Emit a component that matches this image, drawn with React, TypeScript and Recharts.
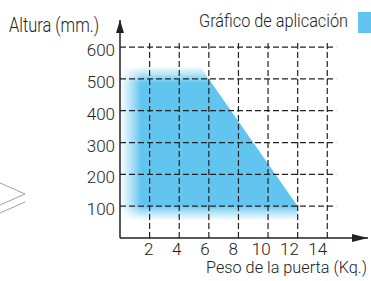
import { AreaChart, Area, XAxis, YAxis, ReferenceLine } from 'recharts'

// application envelope: door weight (kg) vs height (mm)
const weights = [0, 5.4, 12]
const heights = [540, 540, 100]
const baseHeight = 55

const xTicks = [2, 4, 6, 8, 10, 12, 14]
const yTicks = [100, 200, 300, 400, 500, 600]
const gridRight = 14.6
const gridTop = 616

const data = weights.map((w, i) => ({ w, h: heights[i] }))

const BLUE = '#61C5F0'
const INK = '#222'
const FONT = 'Roboto, "Noto Sans", sans-serif'

const XTick = ({ x, y, payload }: any) => (
  <text
    x={x - (payload.value - 2) * 0.72 - 1}
    y={y}
    dy="0.71em"
    textAnchor="middle"
    fontSize={17}
    fontWeight={300}
    fill={INK}
    fontFamily={FONT}
  >
    {payload.value}
  </text>
)

const YTick = ({ x, y, payload }: any) => (
  <text x={x} y={y + 3} dy="0.355em" textAnchor="end" fontSize={17} fontWeight={300} fill={INK} fontFamily={FONT}>
    {payload.value}
  </text>
)

export default function App() {
  return (
    <div style={{ position: 'absolute', left: 0, top: 0, width: 371, height: 281 }}>
      <AreaChart width={371} height={281} data={data} margin={{ top: 20, right: 3, bottom: 0, left: 60 }}>
        <defs>
          <linearGradient id="vfade" x1="0" y1="0" x2="0" y2="1">
            <stop offset="0" stopColor={BLUE} stopOpacity={0} />
            <stop offset="0.05" stopColor={BLUE} stopOpacity={0.45} />
            <stop offset="0.11" stopColor={BLUE} stopOpacity={1} />
            <stop offset="0.9" stopColor={BLUE} stopOpacity={1} />
            <stop offset="0.95" stopColor={BLUE} stopOpacity={0.45} />
            <stop offset="1" stopColor={BLUE} stopOpacity={0} />
          </linearGradient>
          <linearGradient id="hgrad" x1="0" y1="0" x2="1" y2="0">
            <stop offset="0" stopColor="#000" />
            <stop offset="0.06" stopColor="#777" />
            <stop offset="0.12" stopColor="#fff" />
            <stop offset="1" stopColor="#fff" />
          </linearGradient>
          <mask id="hfade" maskContentUnits="objectBoundingBox">
            <rect x={0} y={0} width={1} height={1} fill="url(#hgrad)" />
          </mask>
          <marker id="arrowX" viewBox="0 0 16 8" markerUnits="userSpaceOnUse" markerWidth={16} markerHeight={8} refX={16} refY={4} orient="auto">
            <path d="M0,0 L16,4 L0,8 z" fill={INK} />
          </marker>
          <marker id="arrowY" viewBox="0 0 13 8" markerUnits="userSpaceOnUse" markerWidth={13} markerHeight={8} refX={13} refY={4} orient="auto-start-reverse">
            <path d="M0,0 L13,4 L0,8 z" fill={INK} />
          </marker>
        </defs>
        <XAxis
          dataKey="w"
          type="number"
          domain={[0, 16.75]}
          ticks={xTicks}
          tickLine={false}
          tickSize={0}
          tickMargin={5}
          height={43}
          axisLine={{ stroke: INK, strokeWidth: 1.5, markerEnd: 'url(#arrowX)' }}
          tick={<XTick />}
          allowDataOverflow
        />
        <YAxis
          type="number"
          domain={[0, 685]}
          ticks={yTicks}
          tickLine={false}
          tickSize={0}
          tickMargin={5}
          width={60}
          axisLine={{ stroke: INK, strokeWidth: 1.5, markerStart: 'url(#arrowY)' }}
          tick={<YTick />}
          allowDataOverflow
        />
        <Area
          type="linear"
          dataKey="h"
          baseValue={baseHeight}
          stroke="none"
          fill="url(#vfade)"
          fillOpacity={1}
          mask="url(#hfade)"
          dot={false}
          activeDot={false}
          isAnimationActive={false}
        />
        {yTicks.map((v) => (
          <ReferenceLine
            key={'h' + v}
            segment={[{ x: 0, y: v }, { x: gridRight, y: v }]}
            stroke={INK}
            strokeWidth={1.2}
            strokeDasharray="6 3"
          />
        ))}
        {xTicks.map((v) => (
          <ReferenceLine
            key={'v' + v}
            segment={[{ x: v, y: 0 }, { x: v, y: gridTop }]}
            stroke={INK}
            strokeWidth={1.2}
            strokeDasharray="6 3"
          />
        ))}
      </AreaChart>
      <svg width={371} height={281} style={{ position: 'absolute', left: 0, top: 0, pointerEvents: 'none' }} fontFamily={FONT} fontWeight={300} fill={INK}>
        <text x={9} y={32} fontSize={20} textLength={90} lengthAdjust="spacingAndGlyphs">Altura (mm.)</text>
        <text x={199} y={27} fontSize={17.5} textLength={149} lengthAdjust="spacingAndGlyphs">Gráfico de aplicación</text>
        <rect x={358} y={12} width={21} height={21} fill={BLUE} />
        <text x={206} y={273} fontSize={17} textLength={161} lengthAdjust="spacingAndGlyphs">Peso de la puerta (Kq.)</text>
        <polyline points="0,183 25,194 0,205" fill="none" stroke="#888" strokeWidth={0.8} />
        <line x1={25} y1={202} x2={0} y2={213} stroke="#888" strokeWidth={0.8} />
      </svg>
    </div>
  )
}
